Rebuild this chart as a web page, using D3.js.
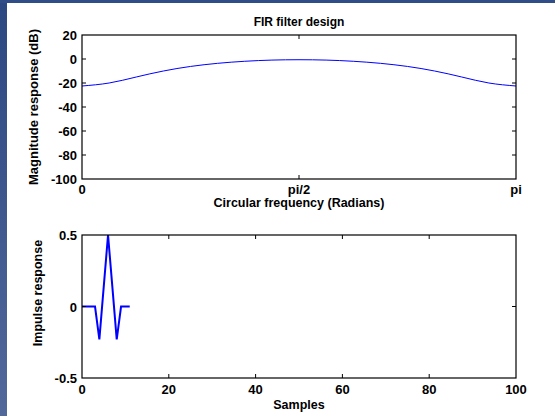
<!DOCTYPE html>
<html lang="en">
<head>
    <meta charset="UTF-8">
    <title>FIR filter design</title>
    <script src="https://d3js.org/d3.v7.min.js"></script>
    <style>
        body { margin: 0; background: #fff; }
        text { font-family: "Liberation Sans", Arial, sans-serif; font-weight: bold; fill: #000; }
    </style>
</head>
<body>
<script>
    var width = 555;
    var height = 416;

    // magnitude response in dB, read at k*pi/16, k = 0..16
    var freq_steps = d3.range(0, 17)
    var mag_db = [-22.5, -20, -15, -10, -6.2, -3.6, -1.9, -0.9, -0.6, -0.9, -1.9, -3.6, -6.2, -10, -15, -20, -22.5]

    // impulse response samples 0..11
    var samples = [0, 1, 2, 3, 4, 5, 6, 7, 8, 9, 10, 11]
    var impulse = [0, 0, 0, 0, -0.23, 0.135, 0.5, 0.135, -0.23, 0, 0, 0]

    var mag_ticks = [20, 0, -20, -40, -60, -80, -100]
    var freq_ticks = [0, 8, 16]
    var freq_labels = ["0", "pi/2", "pi"]
    var sample_ticks = [0, 20, 40, 60, 80, 100]
    var imp_ticks = [0.5, 0, -0.5]

    var svg = d3.select("body").append("svg")
        .attr("width", width)
        .attr("height", height)

    // window frame
    var grad = svg.append("defs").append("linearGradient")
        .attr("id", "side").attr("x1", 0).attr("y1", 0).attr("x2", 0).attr("y2", 1)
    grad.append("stop").attr("offset", "0%").attr("stop-color", "#2c4881")
    grad.append("stop").attr("offset", "100%").attr("stop-color", "#51689b")
    svg.append("rect").attr("x", 0).attr("y", 0).attr("width", 7).attr("height", height).attr("fill", "url(#side)")
    svg.append("rect").attr("x", 0).attr("y", 0).attr("width", width).attr("height", 3).attr("fill", "#304d87")

    var left = 82, right = 516

    function box(g, x, y) {
        g.append("rect")
            .attr("x", x.range()[0]).attr("y", y.range()[1])
            .attr("width", x.range()[1] - x.range()[0])
            .attr("height", y.range()[0] - y.range()[1])
            .attr("fill", "none").attr("stroke", "#000").attr("stroke-width", 1.2)
    }

    function ticks(g, x, y, xt, yt) {
        var tl = 4
        xt.forEach(function (v) {
            g.append("line").attr("x1", x(v)).attr("x2", x(v))
                .attr("y1", y.range()[0]).attr("y2", y.range()[0] - tl).attr("stroke", "#000")
            g.append("line").attr("x1", x(v)).attr("x2", x(v))
                .attr("y1", y.range()[1]).attr("y2", y.range()[1] + tl).attr("stroke", "#000")
        })
        yt.forEach(function (v) {
            g.append("line").attr("x1", x.range()[0]).attr("x2", x.range()[0] + tl)
                .attr("y1", y(v)).attr("y2", y(v)).attr("stroke", "#000")
            g.append("line").attr("x1", x.range()[1]).attr("x2", x.range()[1] - tl)
                .attr("y1", y(v)).attr("y2", y(v)).attr("stroke", "#000")
        })
    }

    // ---- top plot
    var x1 = d3.scaleLinear().domain([0, 16]).range([left, right])
    var y1 = d3.scaleLinear().domain([-100, 20]).range([179, 35])
    var g_mag = svg.append("g")

    g_mag.append("path")
        .datum(freq_steps.map(function (k, i) { return {x: k, y: mag_db[i]} }))
        .attr("d", d3.line().x(function (d) { return x1(d.x) }).y(function (d) { return y1(d.y) }).curve(d3.curveNatural))
        .attr("fill", "none").attr("stroke", "#0000ff").attr("stroke-width", 1)

    box(g_mag, x1, y1)
    ticks(g_mag, x1, y1, [8], mag_ticks.slice(1, -1))

    mag_ticks.forEach(function (v) {
        g_mag.append("text").attr("x", left - 5).attr("y", y1(v) + 5)
            .attr("text-anchor", "end").attr("font-size", 13).text(v)
    })
    freq_ticks.forEach(function (v, i) {
        g_mag.append("text").attr("x", x1(v)).attr("y", 194)
            .attr("text-anchor", "middle").attr("font-size", 13).text(freq_labels[i])
    })
    g_mag.append("text").attr("x", x1(8)).attr("y", 26)
        .attr("text-anchor", "middle").attr("font-size", 12).text("FIR filter design")
    g_mag.append("text").attr("x", x1(8)).attr("y", 207)
        .attr("text-anchor", "middle").attr("font-size", 12.5).text("Circular frequency (Radians)")
    g_mag.append("text").attr("transform", "translate(38,107) rotate(-90)")
        .attr("text-anchor", "middle").attr("font-size", 13).text("Magnitude response (dB)")

    // ---- bottom plot
    var x2 = d3.scaleLinear().domain([0, 100]).range([left, right])
    var y2 = d3.scaleLinear().domain([-0.5, 0.5]).range([378, 235])
    var g_imp = svg.append("g")

    g_imp.append("path")
        .datum(samples.map(function (s, i) { return {x: s, y: impulse[i]} }))
        .attr("d", d3.line().x(function (d) { return x2(d.x) }).y(function (d) { return y2(d.y) }))
        .attr("fill", "none").attr("stroke", "#0000ff").attr("stroke-width", 2)

    box(g_imp, x2, y2)
    ticks(g_imp, x2, y2, sample_ticks.slice(1, -1), [0])

    imp_ticks.forEach(function (v) {
        g_imp.append("text").attr("x", left - 5).attr("y", y2(v) + 5)
            .attr("text-anchor", "end").attr("font-size", 13).text(v)
    })
    sample_ticks.forEach(function (v) {
        g_imp.append("text").attr("x", x2(v)).attr("y", 394)
            .attr("text-anchor", "middle").attr("font-size", 13).text(v)
    })
    g_imp.append("text").attr("x", x2(50)).attr("y", 409)
        .attr("text-anchor", "middle").attr("font-size", 12.5).text("Samples")
    g_imp.append("text").attr("transform", "translate(42,293) rotate(-90)")
        .attr("text-anchor", "middle").attr("font-size", 12.5).text("Impulse response")
</script>
</body>
</html>
